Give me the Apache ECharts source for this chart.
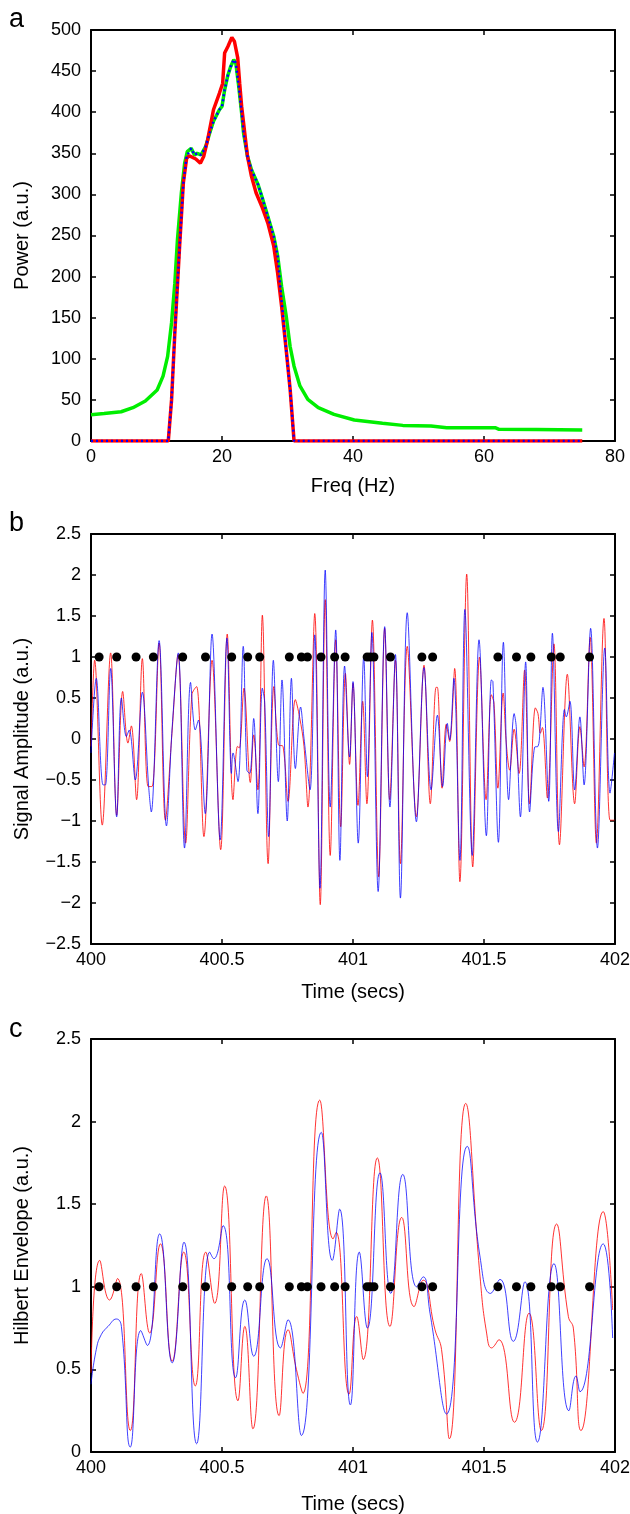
<!DOCTYPE html>
<html><head><meta charset="utf-8">
<script src="https://cdn.jsdelivr.net/npm/echarts/dist/echarts.min.js"></script>
<style>html,body{margin:0;padding:0;background:#fff}#c{width:630px;height:1514px}</style>
</head><body><div id="c"></div>
<script>
// ---------- Panel a: power spectra ----------
const specGreen = [[0,32],[2,33.5],[4.6,35.6],[6.4,40.5],[8.3,48.6],[10.1,62],[11.0,79],[11.7,103],[12.3,144],[12.8,192],[13.2,245],[13.8,302],[14.3,338],[14.7,352],[15.3,356],[15.8,348],[16.2,350],[16.8,348],[17.5,358],[18.1,374],[18.7,389],[19.6,403],[20.0,407],[20.4,427],[20.9,445],[21.3,455],[21.8,464],[22.1,460],[22.5,435],[23.0,399],[23.3,374],[23.9,346],[24.5,330],[25.5,312],[26.1,297],[27.0,273],[27.9,249],[28.5,225],[29.1,188],[29.8,152],[30.4,115],[31.0,91],[31.9,67],[33.1,50.6],[34.7,40.5],[37.1,32.4],[40.2,25.5],[44.5,21.5],[47.6,19],[51.9,18.2],[54.3,16.2],[61.7,16.2],[62.3,14.2],[68,14],[75,13.5]];
const specRed = [[0,0],[11.8,0],[12.3,50],[12.8,132],[13.5,233],[14.1,314],[14.6,344],[15.0,347],[16.0,343],[16.7,338],[17.2,346],[17.8,366],[18.7,403],[19.6,423],[20.1,435],[20.4,472],[20.9,480],[21.5,491],[21.9,486],[22.4,466],[22.7,435],[23.0,407],[23.6,366],[23.9,346],[24.5,322],[25.2,302],[26.1,285],[27.0,265],[27.9,237],[28.5,204],[29.1,164],[29.8,111],[30.4,63],[31.0,0],[75,0]];
const specBlue = [[0,0],[11.8,0],[12.3,50],[12.8,132],[13.5,233],[14.1,314],[14.6,346],[15.0,352],[15.3,356],[15.8,348],[16.2,350],[16.8,348],[17.5,358],[18.1,374],[18.7,389],[19.6,403],[20.0,407],[20.4,427],[20.9,445],[21.3,455],[21.8,464],[22.1,460],[22.5,435],[23.0,399],[23.3,374],[23.9,346],[24.5,330],[25.5,312],[26.1,297],[27.0,273],[27.9,249],[28.5,225],[29.1,170],[29.8,111],[30.4,63],[31.0,0],[75,0]];

// ---------- Panel b: filtered signals ----------
const sigBlue = [[400.000,-0.17],[400.020,0.74],[400.046,-0.56],[400.055,-0.56],[400.075,0.86],[400.098,-0.95],[400.116,0.50],[400.135,0.03],[400.146,0.11],[400.169,-0.50],[400.196,0.57],[400.220,-0.58],[400.230,-0.89],[400.260,1.20],[400.288,-1.06],[400.310,0.15],[400.333,1.05],[400.357,-1.33],[400.380,0.69],[400.398,0.11],[400.410,0.23],[400.436,-0.91],[400.462,1.28],[400.493,-1.23],[400.519,1.23],[400.536,-0.42],[400.542,-0.17],[400.561,-0.52],[400.581,1.13],[400.595,-0.38],[400.606,-0.42],[400.621,0.25],[400.637,-0.91],[400.654,0.62],[400.663,0.44],[400.678,-1.19],[400.696,0.96],[400.715,-0.52],[400.729,0.72],[400.749,-1.00],[400.765,0.74],[400.780,-0.36],[400.800,0.39],[400.813,0.01],[400.836,-0.62],[400.854,1.27],[400.874,-1.82],[400.894,2.06],[400.913,-0.83],[400.934,1.33],[400.950,-1.48],[400.968,0.89],[400.987,-0.22],[401.000,0.70],[401.020,-1.27],[401.041,1.00],[401.055,-0.46],[401.072,1.30],[401.096,-1.86],[401.121,1.37],[401.141,-0.83],[401.162,1.03],[401.181,-1.94],[401.207,1.54],[401.242,-1.01],[401.271,0.87],[401.298,-0.62],[401.322,0.29],[401.342,-0.58],[401.360,0.19],[401.369,-0.01],[401.385,0.74],[401.408,-1.48],[401.427,1.58],[401.455,-1.42],[401.481,1.21],[401.509,-1.18],[401.528,0.72],[401.534,0.70],[401.555,-1.26],[401.574,1.18],[401.594,-0.74],[401.615,0.31],[401.623,0.15],[401.639,-0.95],[401.659,0.94],[401.674,-0.89],[401.693,-0.10],[401.706,-0.09],[401.713,0.07],[401.725,0.63],[401.747,-0.76],[401.761,1.29],[401.784,-1.13],[401.807,0.36],[401.814,0.27],[401.828,0.46],[401.846,-0.62],[401.866,0.27],[401.882,-0.56],[401.907,1.35],[401.933,-1.33],[401.961,1.11],[401.981,-0.66],[401.998,-0.17]];
const sigRed = [[400.000,-0.09],[400.014,0.96],[400.043,-1.05],[400.075,1.05],[400.098,-0.93],[400.121,0.58],[400.141,-0.05],[400.154,0.16],[400.174,-0.74],[400.196,0.98],[400.218,-0.58],[400.233,-0.58],[400.260,1.17],[400.284,-0.99],[400.309,0.07],[400.332,1.03],[400.361,-1.27],[400.385,0.54],[400.403,0.64],[400.431,-1.19],[400.462,0.96],[400.495,-1.35],[400.520,1.28],[400.542,-0.74],[400.559,-0.09],[400.566,-0.11],[400.584,0.62],[400.608,-0.53],[400.621,0.05],[400.637,-0.62],[400.654,1.51],[400.676,-1.52],[400.698,0.64],[400.715,-0.07],[400.733,-0.09],[400.752,-0.76],[400.780,0.48],[400.796,0.27],[400.813,-0.09],[400.828,-0.83],[400.854,1.53],[400.875,-2.02],[400.894,1.70],[400.913,-1.42],[400.934,1.21],[400.953,-1.07],[400.971,0.80],[400.987,-0.31],[401.000,0.68],[401.019,-0.81],[401.037,0.46],[401.053,-0.79],[401.074,1.45],[401.098,-1.68],[401.121,1.35],[401.140,-0.74],[401.162,0.96],[401.181,-1.52],[401.207,1.13],[401.242,-0.95],[401.271,0.90],[401.295,-0.79],[401.317,0.63],[401.322,0.63],[401.340,-0.60],[401.356,0.18],[401.369,-0.03],[401.388,0.86],[401.408,-1.74],[401.434,2.01],[401.457,-1.56],[401.483,1.00],[401.508,-0.74],[401.528,0.54],[401.538,0.44],[401.553,-0.60],[401.573,0.56],[401.585,-0.05],[401.598,-0.38],[401.615,0.12],[401.634,-0.42],[401.655,0.84],[401.674,-0.79],[401.696,0.38],[401.706,0.31],[401.715,0.07],[401.723,0.14],[401.742,-0.72],[401.767,1.16],[401.788,-1.29],[401.818,0.79],[401.846,-0.79],[401.866,0.15],[401.882,-0.34],[401.905,1.24],[401.929,-1.27],[401.958,1.47],[401.981,-0.99],[401.998,-0.99]];

// ---------- Panel c: Hilbert envelopes ----------
const envBlue = [[400.000,0.41],[400.020,0.62],[400.039,0.71],[400.065,0.76],[400.097,0.805],[400.116,0.76],[400.150,0.03],[400.190,0.735],[400.215,0.645],[400.262,1.32],[400.310,0.54],[400.355,1.27],[400.403,0.05],[400.453,1.21],[400.469,1.17],[400.504,1.37],[400.552,0.45],[400.587,0.92],[400.621,0.58],[400.672,1.17],[400.723,0.63],[400.752,0.80],[400.803,0.10],[400.879,1.935],[400.921,1.16],[400.949,1.47],[400.990,0.285],[401.024,1.21],[401.055,0.75],[401.103,1.69],[401.144,0.96],[401.190,1.68],[401.243,1.00],[401.268,1.06],[401.294,0.84],[401.357,0.23],[401.436,1.85],[401.485,1.18],[401.525,0.96],[401.561,1.045],[401.612,0.67],[401.656,1.03],[401.704,0.06],[401.767,1.14],[401.824,0.25],[401.851,0.46],[401.866,0.365],[401.955,1.26],[401.991,0.69]];
const envRed = [[400.000,0.48],[400.033,1.16],[400.071,0.92],[400.101,1.05],[400.150,0.13],[400.192,1.08],[400.224,0.72],[400.265,1.26],[400.310,0.55],[400.354,1.21],[400.398,0.40],[400.438,1.21],[400.472,0.90],[400.510,1.61],[400.561,0.31],[400.587,0.76],[400.618,0.14],[400.669,1.55],[400.718,0.22],[400.752,0.74],[400.784,0.50],[400.809,0.355],[400.873,2.13],[400.924,1.29],[400.936,1.33],[400.985,0.35],[401.014,0.82],[401.039,0.56],[401.093,1.78],[401.141,0.76],[401.186,1.42],[401.233,0.88],[401.268,1.04],[401.313,0.74],[401.338,0.62],[401.368,0.08],[401.430,2.11],[401.485,1.06],[401.510,0.72],[401.529,0.63],[401.557,0.68],[401.616,0.18],[401.672,0.84],[401.719,0.13],[401.777,1.38],[401.822,0.82],[401.841,0.75],[401.870,0.13],[401.955,1.455],[401.991,0.86]];

// ---------- Event markers (shown at amplitude 1 in b and c) ----------
const eventTimes = [400.031,400.098,400.172,400.238,400.350,400.437,400.537,400.598,400.644,400.757,400.803,400.826,400.878,400.930,400.970,401.054,401.066,401.080,401.143,401.263,401.304,401.553,401.624,401.679,401.757,401.791,401.903];
const eventLevel = 1;

// ---------- Axis settings ----------
const freqTicks = {min:0, max:80, interval:20};
const powerTicks = {min:0, max:500, interval:50};
const timeTicks = {min:400, max:402, interval:0.5};
const ampTicks = {min:-2.5, max:2.5, interval:0.5};
const envTicks = {min:0, max:2.5, interval:0.5};
const panelLabels = ['a','b','c'];
const axisTitles = [['Freq (Hz)','Power (a.u.)'],['Time (secs)','Signal Amplitude (a.u.)'],['Time (secs)','Hilbert Envelope (a.u.)']];

const FONT = '"Liberation Sans", Arial, Helvetica, sans-serif';
const fmtNum = v => (v < 0 ? '\u2212' + Math.abs(v) : String(v));
const lineSt = {color:'#000', width:2};
const tickSt = {show:true, inside:true, length:5, lineStyle:{color:'#000', width:1.5}};

const xAxes = [], yAxes = [];
function addAxes(g, xt, yt, names, xGap){
  xAxes.push({type:'value', gridIndex:g, min:xt.min, max:xt.max, interval:xt.interval, position:'bottom',
    axisLine:{show:true, onZero:false, lineStyle:lineSt}, axisTick:tickSt, splitLine:{show:false},
    axisLabel:{color:'#000', fontSize:18, fontFamily:FONT, margin:7, formatter:fmtNum},
    name:names[0], nameLocation:'middle', nameGap:xGap, nameTextStyle:{color:'#000', fontSize:20, fontFamily:FONT}});
  xAxes.push({type:'value', gridIndex:g, min:xt.min, max:xt.max, interval:xt.interval, position:'top',
    axisLine:{show:true, onZero:false, lineStyle:lineSt}, axisTick:tickSt, splitLine:{show:false}, axisLabel:{show:false}});
  yAxes.push({type:'value', gridIndex:g, min:yt.min, max:yt.max, interval:yt.interval, position:'left',
    axisLine:{show:true, onZero:false, lineStyle:lineSt}, axisTick:tickSt, splitLine:{show:false},
    axisLabel:{color:'#000', fontSize:18, fontFamily:FONT, margin:10, formatter:fmtNum},
    name:names[1], nameLocation:'middle', nameGap:59, nameRotate:90, nameTextStyle:{color:'#000', fontSize:20, fontFamily:FONT}});
  yAxes.push({type:'value', gridIndex:g, min:yt.min, max:yt.max, interval:yt.interval, position:'right',
    axisLine:{show:true, onZero:false, lineStyle:lineSt}, axisTick:tickSt, splitLine:{show:false}, axisLabel:{show:false}});
}
addAxes(0, freqTicks, powerTicks, axisTitles[0], 35);
addAxes(1, timeTicks, ampTicks, axisTitles[1], 38);
addAxes(2, timeTicks, envTicks, axisTitles[2], 42);

function line(g, data, color, width, extra){
  return Object.assign({type:'line', xAxisIndex:g*2, yAxisIndex:g*2, data:data, showSymbol:false, symbol:'none',
    lineStyle:{color:color, width:width}, animation:false, silent:true}, extra||{});
}
const dots = g => ({type:'scatter', xAxisIndex:g*2, yAxisIndex:g*2, data:eventTimes.map(t=>[t,eventLevel]),
  symbol:'circle', symbolSize:9, itemStyle:{color:'#000', opacity:1}, z:10, animation:false, silent:true});

const series = [
  line(0, specGreen, '#00ee00', 3.5, {z:2}),
  line(0, specRed, '#ff0000', 3.5, {z:3}),
  line(0, specBlue, '#0000ff', 2.5, {z:4, lineStyle:{color:'#0000ff', width:2.5, type:[2,3]}}),
  line(1, sigRed, '#ff0000', 1, {z:3, smooth:0.35, lineStyle:{color:'#ff0000', width:1, opacity:0.8}}),
  line(1, sigBlue, '#0000ff', 1, {z:4, smooth:0.35, lineStyle:{color:'#0000ff', width:1, opacity:0.75}}),
  dots(1),
  line(2, envRed, '#ff0000', 1, {z:3, smooth:0.5, lineStyle:{color:'#ff0000', width:1, opacity:0.8}}),
  line(2, envBlue, '#0000ff', 1, {z:4, smooth:0.5, lineStyle:{color:'#0000ff', width:1, opacity:0.75}}),
  dots(2)
];

const letterY = [18, 522, 1028];
const gridBase = {left:91, right:15, outerBoundsMode:'none', containLabel:false};
const chart = echarts.init(document.getElementById('c'), null, {renderer:'canvas'});
chart.setOption({
  animation:false,
  backgroundColor:'#fff',
  grid:[
    Object.assign({top:30, height:411}, gridBase),
    Object.assign({top:534, height:410}, gridBase),
    Object.assign({top:1039, height:413}, gridBase)
  ],
  xAxis:xAxes, yAxis:yAxes, series:series,
  graphic: panelLabels.map((t,i)=>({type:'text', left:9, top:letterY[i]-12,
    style:{text:t, font:'27px '+FONT, fill:'#000'}}))
});
</script></body></html>
